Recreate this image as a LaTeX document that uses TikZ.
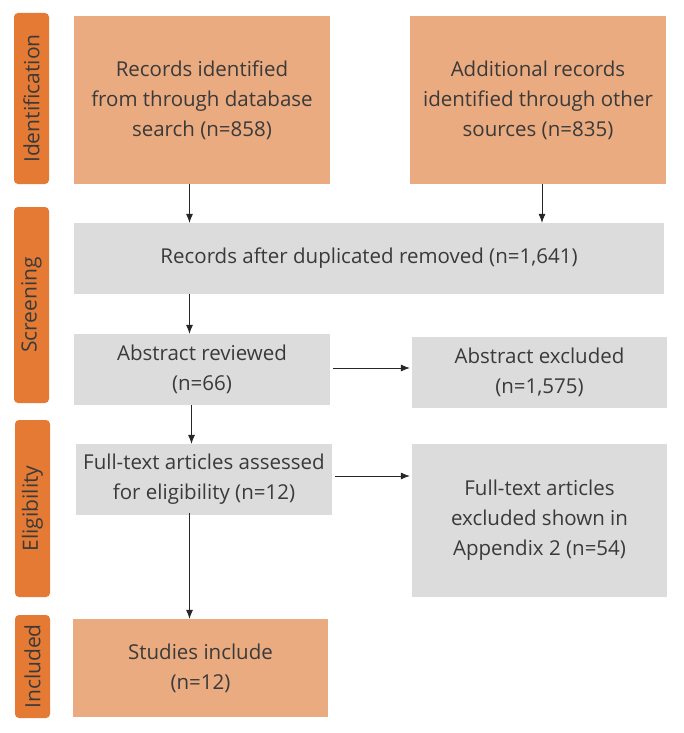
\documentclass[tikz,border=0pt]{standalone}
\usepackage{fontspec}
\setmainfont{Open Sans}
\usepackage{tikz}
\usetikzlibrary{arrows.meta,positioning}
\definecolor{tabor}{HTML}{E47A34}
\definecolor{boxor}{HTML}{EBAB81}
\definecolor{boxgr}{HTML}{DCDCDC}
\definecolor{txt}{HTML}{3A3A3A}
\tikzset{
  stage/.style={rectangle,rounded corners=4pt,fill=tabor,text=txt,minimum height=35pt,
    inner sep=0pt,font=\fontsize{21}{24}\selectfont,rotate=90},
  obox/.style={rectangle,fill=boxor,text=txt,inner sep=2pt,align=center,
    font=\fontsize{20.5}{30}\selectfont},
  gbox/.style={obox,fill=boxgr},
  flow/.style={-{Latex[length=9pt,width=7pt]},line width=0.7pt,color=black!85}
}
\begin{document}
\begin{tikzpicture}[x=1pt,y=-1pt]
\useasboundingbox (0,0) rectangle (684,733);
% \draw[help lines,step=50] (0,0) grid (684,733);
% stages
\node (tid) [stage,minimum width=171pt] at (31.5,98.5) {Identification};
\node (tsc) [stage,minimum width=196pt] at (31.5,305) {Screening};
\node (tel) [stage,minimum width=177pt] at (32.5,508.5) {Eligibility};
\node (tin) [stage,minimum width=103pt] at (32.5,666.5) {Included};
%
\node (rec) [obox,minimum width=256pt,minimum height=168pt] at (202,100) {Records identified\\from through database\\search (n=858)};
\node (add) [obox,minimum width=256pt,minimum height=168pt] at (538,100) {Additional records\\identified through other\\sources (n=835)};
\node (dup) [gbox,minimum width=590pt,minimum height=71pt] at (369,258.5) {Records after duplicated removed (n=1,641)};
\node (abs) [gbox,minimum width=256pt,minimum height=71pt] at (202,369.5) {Abstract reviewed\\(n=66)};
\node (absx) [gbox,minimum width=255pt,minimum height=71pt] at (539.5,372.5) {Abstract excluded\\(n=1,575)};
\node (ft) [gbox,minimum width=256pt,minimum height=71pt] at (204,479.5) {Full-text articles assessed\\for eligibility (n=12)};
\node (ftx) [gbox,minimum width=255pt,minimum height=153pt] at (539.5,520.5) {Full-text articles\\excluded shown in\\Appendix 2 (n=54)};
\node (inc) [obox,minimum width=255pt,minimum height=98pt] at (200.5,668) {Studies include\\(n=12)};
%
\coordinate (col) at (189.5,0);
\coordinate (col2) at (542,0);
\draw[flow] (rec.south -| col) -- (dup.north -| col);
\draw[flow] (add.south -| col2) -- (dup.north -| col2);
\draw[flow] (dup.south -| col) -- (abs.north -| col);
\draw[flow] ([xshift=2pt]abs.south -| col) -- ([xshift=2pt]ft.north -| col);
\draw[flow] ([yshift=2pt]ft.south -| col) -- (inc.north -| col);
%
\draw[flow,shorten <=3pt,shorten >=2pt] ([yshift=1.5pt]abs.east) -- ([yshift=1.5pt]abs.east -| absx.west);
\draw[flow,shorten <=3pt,shorten >=2pt] ([yshift=3.5pt]ft.east) -- ([yshift=3.5pt]ft.east -| ftx.west);
\end{tikzpicture}
\end{document}
